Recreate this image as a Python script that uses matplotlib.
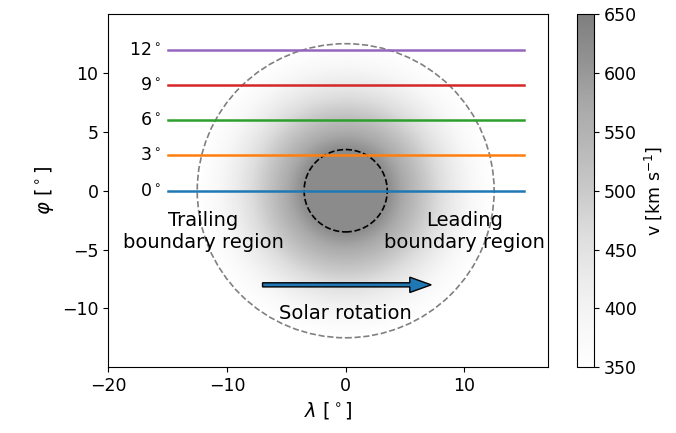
import numpy as np
import matplotlib
matplotlib.use("Agg")
import matplotlib.pyplot as plt
from matplotlib.patches import Circle

# data
latitudes = [0, 3, 6, 9, 12]
lat_labels = ["0$^\\circ$", "3$^\\circ$", "6$^\\circ$", "9$^\\circ$", "12$^\\circ$"]
line_lon_range = [-15, 15]
v_min, v_max = 350, 650
v_core = 625
core_radius = 3.5
boundary_radius = 12.5
cbar_ticks = [350, 400, 450, 500, 550, 600, 650]

plt.rcParams['font.size'] = 12.5
fig = plt.figure(figsize=(6.76, 4.33), dpi=100)
ax = fig.add_axes([0.160, 0.152, 0.650, 0.815])
cax = fig.add_axes([0.853, 0.152, 0.026, 0.815])

lon = np.linspace(-20, 17, 600)
lat = np.linspace(-15, 15, 500)
L, P = np.meshgrid(lon, lat)
R = np.hypot(L, P)
frac = np.clip((R - core_radius) / (boundary_radius - core_radius), 0, 1)
V = v_min + (v_core - v_min) * (1 - frac) ** 1.3
im = ax.pcolormesh(L, P, V, cmap='Greys', vmin=v_min, vmax=v_max, alpha=0.5,
                   shading='auto', rasterized=True)

for i, (la, lab) in enumerate(zip(latitudes, lat_labels)):
    ax.plot(line_lon_range, [la, la], color=f'C{i}', lw=1.8)
    ax.text(line_lon_range[0] - 0.5, la, lab, ha='right', va='center', fontsize=12.5)

ax.add_patch(Circle((0, 0), boundary_radius, fill=False, ls='--', color='gray', lw=1.2))
ax.add_patch(Circle((0, 0), core_radius, fill=False, ls='--', color='black', lw=1.2))

ax.text(-12.0, -3.45, "Trailing\nboundary region", ha='center', va='center', fontsize=14)
ax.text(10.0, -3.45, "Leading\nboundary region", ha='center', va='center', fontsize=14)
ax.text(0, -10.4, "Solar rotation", ha='center', va='center', fontsize=14)
ax.arrow(-7, -8, 12.4, 0, width=0.35, head_width=1.3, head_length=1.8,
         length_includes_head=False, fc='C0', ec='black', lw=1)

ax.set_xlim(-20, 17)
ax.set_ylim(-15, 15)
ax.set_xticks([-20, -10, 0, 10])
ax.set_yticks([-10, -5, 0, 5, 10])
ax.set_xlabel("$\\lambda$ [$^\\circ$]", fontsize=14)
ax.set_ylabel("$\\varphi$ [$^\\circ$]", fontsize=14)

cb = fig.colorbar(im, cax=cax)
cb.set_ticks(cbar_ticks)
cb.set_label("v [km s$^{-1}$]", fontsize=12.5)
cb.solids.set_alpha(0.5)

fig.savefig("out.png", dpi=100)
